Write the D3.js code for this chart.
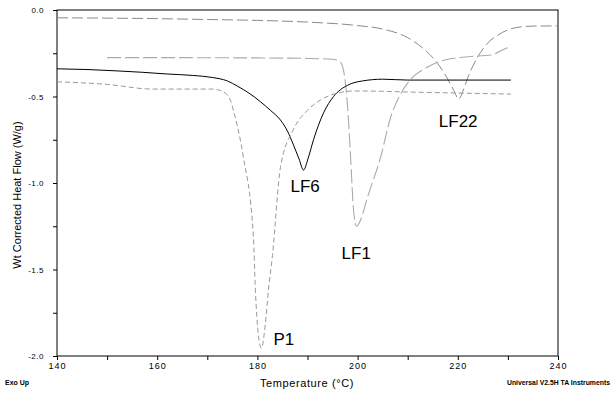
<!DOCTYPE html>
<html><head><meta charset="utf-8">
<script src="https://cdn.jsdelivr.net/npm/d3@7"></script>
<style>
html,body{margin:0;padding:0;background:#fff;}
svg{display:block;}
</style>
</head><body>
<svg id="c" width="611" height="396"></svg>
<script>
// ---- data ----
const xTicks = [140, 160, 180, 200, 220, 240];
const yTicks = [0, -0.5, -1.0, -1.5, -2.0];

const lf22T = [140, 150, 160, 170, 180, 190, 200, 205, 210, 213, 216, 218, 219.2, 220.2, 221, 222, 224, 226, 228, 230, 232, 235, 240];
const lf22V = [-0.045, -0.047, -0.05, -0.055, -0.06, -0.07, -0.09, -0.11, -0.16, -0.22, -0.31, -0.40, -0.465, -0.515, -0.47, -0.39, -0.27, -0.19, -0.145, -0.115, -0.10, -0.093, -0.092];

const lf1T = [150, 160, 170, 180, 190, 195, 196.5, 197.2, 198, 198.6, 199.2, 199.8, 200.5, 202, 204.6, 206.6, 208.5, 210.6, 214, 217.2, 222, 226.6, 229, 230.6];
const lf1V = [-0.275, -0.275, -0.276, -0.277, -0.28, -0.285, -0.30, -0.35, -0.56, -0.85, -1.16, -1.25, -1.22, -1.08, -0.85, -0.62, -0.49, -0.40, -0.33, -0.29, -0.27, -0.26, -0.23, -0.21];

const lf6T = [140, 146, 152, 157, 162, 167, 171, 174, 176, 178.3, 180.6, 182.6, 184.6, 186, 187.2, 188.3, 189.2, 190.2, 191.2, 193.2, 195.2, 198, 201, 205, 210, 220, 230.6];
const lf6V = [-0.34, -0.344, -0.352, -0.36, -0.37, -0.378, -0.39, -0.41, -0.44, -0.48, -0.53, -0.58, -0.636, -0.70, -0.78, -0.86, -0.925, -0.85, -0.75, -0.595, -0.50, -0.435, -0.41, -0.40, -0.405, -0.405, -0.405];

const p1T = [140, 150, 159, 171, 173, 174.6, 175.2, 177.2, 179.2, 179.6, 180.2, 180.8, 181.6, 182.2, 183, 184.6, 187.2, 190, 192.6, 196, 199.2, 205, 210, 220, 230.6];
const p1V = [-0.415, -0.43, -0.457, -0.457, -0.47, -0.52, -0.58, -0.85, -1.31, -1.62, -1.88, -1.955, -1.81, -1.62, -1.42, -0.91, -0.69, -0.58, -0.52, -0.48, -0.468, -0.47, -0.474, -0.48, -0.486];

const seriesNames = ["LF22", "LF1", "LF6", "P1"];
const labelAt = [[220.2, -0.515], [199.8, -1.25], [189.2, -0.925], [180.8, -1.955]];

// ---- drawing ----
const svg = d3.select("#c");
const x = d3.scaleLinear().domain([140, 240]).range([57, 558]);
const y = d3.scaleLinear().domain([-2, 0]).range([356, 10]);

const font = "'Liberation Sans', Arial, sans-serif";

// frame
svg.append("rect").attr("x", x(140)).attr("y", y(0))
  .attr("width", x(240) - x(140)).attr("height", y(-2) - y(0))
  .attr("fill", "none").attr("stroke", "#000").attr("stroke-width", 1);

// x axis
const xAxis = d3.axisBottom(x).tickValues(d3.range(140, 241, 10))
  .tickSize(4).tickPadding(3)
  .tickFormat(d => xTicks.includes(d) ? d3.format("d")(d) : "");
const gx = svg.append("g").attr("transform", `translate(0,${y(-2)})`).call(xAxis);
gx.select(".domain").remove();
gx.selectAll("text").attr("font-family", font).attr("font-size", 9).attr("fill", "#000").attr("letter-spacing", "1px");

// y axis
const yAxis = d3.axisLeft(y).tickValues(d3.range(0, 9).map(i => -i * 0.25))
  .tickSize(4).tickPadding(9)
  .tickFormat(d => yTicks.some(t => Math.abs(t - d) < 1e-9) ? d3.format(".1f")(d).replace("−", "-") : "");
const gy = svg.append("g").attr("transform", `translate(${x(140)},0)`).call(yAxis);
gy.select(".domain").remove();
gy.selectAll("text").attr("font-family", font).attr("font-size", 8).attr("fill", "#000").attr("letter-spacing", "0.5px");

// series
const line = d3.line().x(d => x(d[0])).y(d => y(d[1])).curve(d3.curveMonotoneX);
const zip = (a, b) => a.map((t, i) => [t, b[i]]);
const series = [
  { data: zip(lf22T, lf22V), color: "#8a8a8a", dash: "11,4", w: 1 },
  { data: zip(lf1T, lf1V), color: "#aaaaaa", dash: "14,4", w: 1.1 },
  { data: zip(lf6T, lf6V), color: "#000000", dash: null, w: 1 },
  { data: zip(p1T, p1V), color: "#999999", dash: "5,3", w: 1 }
];
series.forEach(s => {
  svg.append("path").datum(s.data).attr("d", line)
    .attr("fill", "none").attr("stroke", s.color).attr("stroke-width", s.w)
    .attr("stroke-dasharray", s.dash);
});

// labels
const offs = [[-20, 28], [-15, 33], [-13, 22], [12, -3]];
seriesNames.forEach((n, i) => {
  svg.append("text").attr("x", x(labelAt[i][0]) + offs[i][0]).attr("y", y(labelAt[i][1]) + offs[i][1])
    .attr("font-family", font).attr("font-size", 17).attr("fill", "#000").text(n);
});

// axis titles
svg.append("text").attr("transform", "translate(21,195) rotate(-90)")
  .attr("text-anchor", "middle").attr("font-family", font).attr("font-size", 11)
  .attr("fill", "#000").text("Wt Corrected Heat Flow (W/g)");
svg.append("text").attr("x", 307).attr("y", 387).attr("text-anchor", "middle")
  .attr("font-family", font).attr("font-size", 11).attr("letter-spacing", "0.6px")
  .attr("fill", "#000").text("Temperature (°C)");

// footer texts
svg.append("text").attr("x", 5).attr("y", 385).attr("font-family", font)
  .attr("font-size", 7).attr("font-weight", "bold").attr("fill", "#000").text("Exo Up");
svg.append("text").attr("x", 507).attr("y", 385).attr("font-family", font)
  .attr("font-size", 7).attr("font-weight", "bold").attr("fill", "#000")
  .attr("textLength", 103).attr("lengthAdjust", "spacingAndGlyphs").text("Universal V2.5H TA Instruments");
</script>
</body></html>
